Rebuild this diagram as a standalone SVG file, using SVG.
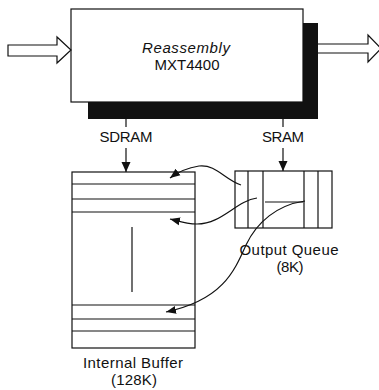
<svg xmlns="http://www.w3.org/2000/svg" width="379" height="390" viewBox="0 0 379 390">
<style>
.ln{stroke:#111;stroke-width:1.2;fill:none}
.box{fill:#fff;stroke:#111;stroke-width:1.2}
.t{font-family:"Liberation Sans",Arial,sans-serif;font-size:15px;fill:#111;text-anchor:middle}
.it{font-style:italic}
</style>
<defs>
<marker id="ah" viewBox="0 0 10 10" refX="10" refY="5" markerWidth="10" markerHeight="10" markerUnits="userSpaceOnUse" orient="auto">
<path d="M0,1 L10,5 L0,9 Z" fill="#111"/>
</marker>
<marker id="ad" viewBox="0 0 10 12" refX="10" refY="6" markerWidth="10" markerHeight="12" markerUnits="userSpaceOnUse" orient="auto">
<path d="M0,1.5 L10,6 L0,10.5 Z" fill="#111"/>
</marker>
</defs>

<g id="reassembly">
<rect x="88" y="23" width="230" height="96" fill="#111"/>
<rect class="box" x="71" y="9" width="232" height="93"/>
<text class="t it" x="186" y="53" textLength="88" lengthAdjust="spacing">Reassembly</text>
<text class="t" x="187" y="70" textLength="65" lengthAdjust="spacing">MXT4400</text>
</g>

<g id="input-arrow">
<path class="box" d="M8,45 L57,45 L57,37 L71,50 L57,63 L57,56 L8,56 Z"/>
</g>
<g id="output-arrow">
<path class="box" d="M318,44 L368,44 L368,35 L381,48.5 L368,62 L368,53 L318,53"/>
</g>

<g id="internal-buffer">
<rect class="box" x="72" y="172" width="123" height="176"/>
<line class="ln" x1="72" y1="184" x2="195" y2="184"/>
<line class="ln" x1="72" y1="199" x2="195" y2="199"/>
<line class="ln" x1="72" y1="212" x2="195" y2="212"/>
<line class="ln" x1="132" y1="227" x2="132" y2="292"/>
<line class="ln" x1="72" y1="305" x2="195" y2="305"/>
<line class="ln" x1="72" y1="319" x2="195" y2="319"/>
<line class="ln" x1="72" y1="331" x2="195" y2="331"/>
<text class="t" x="133" y="368" textLength="100" lengthAdjust="spacing">Internal Buffer</text>
<text class="t" x="134" y="385" textLength="46" lengthAdjust="spacing">(128K)</text>
</g>

<g id="output-queue">
<rect class="box" x="235" y="171" width="97" height="57"/>
<line class="ln" x1="248" y1="171" x2="248" y2="228"/>
<line class="ln" x1="263" y1="171" x2="263" y2="228"/>
<line class="ln" x1="304" y1="171" x2="304" y2="228"/>
<line class="ln" x1="318" y1="171" x2="318" y2="228"/>
<line class="ln" x1="265" y1="202" x2="303" y2="202"/>
<text class="t" x="289" y="255" textLength="99" lengthAdjust="spacing">Output Queue</text>
<text class="t" x="290" y="272" textLength="27" lengthAdjust="spacing">(8K)</text>
</g>

<g id="labels">
<text class="t" x="126" y="142" textLength="53" lengthAdjust="spacing">SDRAM</text>
<text class="t" x="283" y="142" textLength="42" lengthAdjust="spacing">SRAM</text>
</g>

<g id="connectors">
<line class="ln" x1="126" y1="119" x2="126" y2="127"/>
<line class="ln" x1="283" y1="119" x2="283" y2="127"/>
<line class="ln" x1="126" y1="148" x2="126" y2="172" marker-end="url(#ad)"/>
<line class="ln" x1="283" y1="148" x2="283" y2="171" marker-end="url(#ad)"/>
<path class="ln" d="M241,185 C225,180 216,164 199,166 C186,168 178,172 170,178" marker-end="url(#ah)"/>
<path class="ln" d="M257,198 C236,201 222,224 197,224 C186,224 178,221 170,219" marker-end="url(#ah)"/>
<path class="ln" d="M305,201 C277,205 257,222 246,245 C234,272 222,300 166,312" marker-end="url(#ah)"/>
</g>
</svg>
